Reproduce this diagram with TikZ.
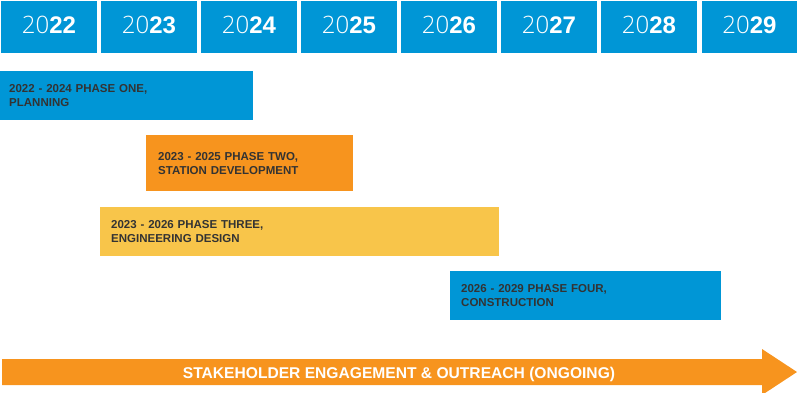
\documentclass[tikz,border=0pt]{standalone}
\usepackage{fontspec}
\setmainfont{Liberation Sans}
\newfontfamily\lightfont{Open Sans Light}
\definecolor{yblue}{RGB}{0,150,214}
\definecolor{porange}{RGB}{247,148,30}
\definecolor{pyellow}{RGB}{248,197,74}
\definecolor{ptext}{RGB}{51,51,51}
\begin{document}
\begin{tikzpicture}[x=1pt,y=-1pt,
  yearbox/.style={fill=yblue,draw=none,anchor=north west,inner sep=0pt,minimum height=52pt},
  yeartxt/.style={anchor=base,text=white,font=\fontsize{24}{28}\selectfont,inner sep=0pt},
  phase/.style={anchor=north west,draw=none,inner ysep=0pt,align=left,text=ptext,
    font=\fontsize{11.5}{14.3}\selectfont\bfseries},
  arrowtxt/.style={anchor=base,text=white,font=\fontsize{15.6}{18}\selectfont\bfseries,inner sep=0pt}]
\useasboundingbox (0,0) rectangle (797,393);
% year boxes
\foreach \i/\y in {0/22,1/23,2/24,3/25,4/26,5/27,6/28} {
  \node[yearbox,minimum width=96pt] (yb\y) at ({1+100*\i},1) {};
  \node[yeartxt] (yt\y) at ({49+100*\i},34) {{\lightfont 20}\textbf{\y}};
}
\node[yearbox,minimum width=95pt] (yb29) at (702,1) {};
\node[yeartxt] (yt29) at (749.5,34) {{\lightfont 20}\textbf{29}};
% phases
\node[phase,fill=yblue,minimum width=253pt,minimum height=49pt,text width=235pt,inner xsep=9pt] (p1) at (0,71)
  {2022 - 2024 PHASE ONE,\\PLANNING};
\node[phase,fill=porange,minimum width=207pt,minimum height=56pt,text width=183pt,inner xsep=12pt] (p2) at (146,135)
  {2023 - 2025 PHASE TWO,\\STATION DEVELOPMENT};
\node[phase,fill=pyellow,minimum width=399pt,minimum height=49pt,text width=377pt,inner xsep=11pt] (p3) at (100,207)
  {2023 - 2026 PHASE THREE,\\ENGINEERING DESIGN};
\node[phase,fill=yblue,minimum width=271pt,minimum height=49pt,text width=249pt,inner xsep=11pt] (p4) at (450,271)
  {2026 - 2029 PHASE FOUR,\\CONSTRUCTION};
% arrow
\fill[porange] (2,359) -- (762,359) -- (762,349) -- (797,372) -- (762,395) -- (762,385) -- (2,385) -- cycle;
\node[arrowtxt] (at) at (399,378.3) {STAKEHOLDER ENGAGEMENT \& OUTREACH (ONGOING)};
\end{tikzpicture}
\end{document}
